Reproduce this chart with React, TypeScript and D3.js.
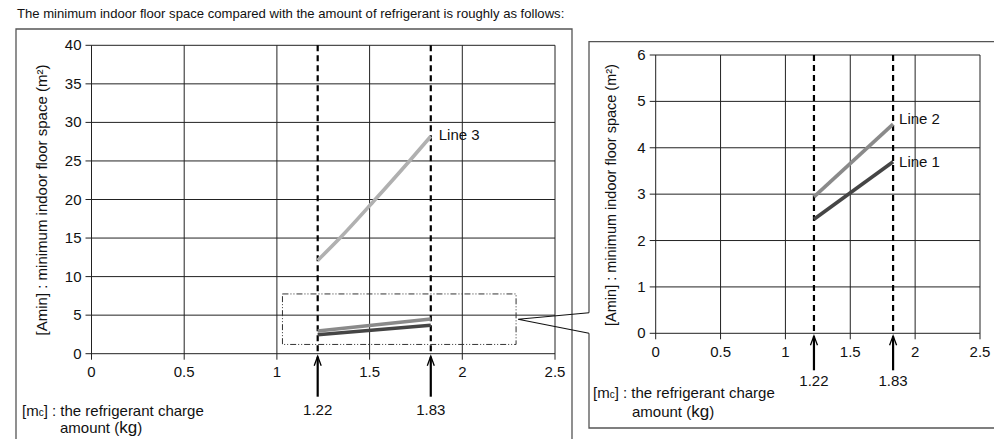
import * as React from 'react';
import * as d3 from 'd3';

// ---- data ----
const xTicks = [0, 0.5, 1, 1.5, 2, 2.5];
const yTicksFull = [0, 5, 10, 15, 20, 25, 30, 35, 40];
const yTicksZoom = [0, 1, 2, 3, 4, 5, 6];
const chargeMarkers = [1.22, 1.83];

type Pt = { m: number; a: number };
const line1: Pt[] = [
  { m: 1.22, a: 2.46 },
  { m: 1.83, a: 3.7 },
];
const line2: Pt[] = [
  { m: 1.22, a: 2.94 },
  { m: 1.83, a: 4.51 },
];
const line3: Pt[] = [
  { m: 1.22, a: 12.1 },
  { m: 1.34, a: 15 },
  { m: 1.53, a: 20 },
  { m: 1.715, a: 25 },
  { m: 1.83, a: 28.2 },
];
const zoomWindowM = [1.03, 2.29];
const zoomWindowA = [1.2, 7.75];

const title = 'The minimum indoor floor space compared with the amount of refrigerant is roughly as follows:';
const yTitle = '[Amin] : minimum indoor floor space (m²)';

const FONT = '"Liberation Sans", Arial, Helvetica, sans-serif';
const GRID = '#222';
const C1 = '#454545';
const C2 = '#8a8a8a';
const C3 = '#b0b0b0';

function Panel({
  x,
  y,
  yTicks,
  series,
  labels,
  arrowLen,
  markerLabelDy,
  tickFont,
}: {
  x: d3.ScaleLinear<number, number>;
  y: d3.ScaleLinear<number, number>;
  yTicks: number[];
  series: { data: Pt[]; color: string; curve: d3.CurveFactory }[];
  labels: { text: string; at: Pt; dx: number; dy: number }[];
  arrowLen: number;
  markerLabelDy: number;
  tickFont: number;
}) {
  const [x0, x1] = x.range();
  const [y0, y1] = y.range();
  const line = (c: d3.CurveFactory) =>
    d3
      .line<Pt>()
      .x((d) => x(d.m))
      .y((d) => y(d.a))
      .curve(c);
  return (
    <g>
      {/* grid */}
      {xTicks.map((t) => (
        <line key={'vx' + t} x1={x(t)} x2={x(t)} y1={y0 + 6} y2={y1} stroke={GRID} strokeWidth={1} />
      ))}
      {yTicks.map((t) => (
        <line key={'hy' + t} x1={x0 - 6} x2={x1} y1={y(t)} y2={y(t)} stroke={GRID} strokeWidth={1} />
      ))}
      {/* tick labels */}
      {xTicks.map((t) => (
        <text key={'tx' + t} x={x(t)} y={y0 + 23.5} textAnchor="middle" fontSize={tickFont} fill="#111">
          {String(t)}
        </text>
      ))}
      {yTicks.map((t) => (
        <text key={'ty' + t} x={x0 - 10} y={y(t) + 5} textAnchor="end" fontSize={tickFont} fill="#111">
          {String(t)}
        </text>
      ))}
      {/* dashed markers + arrows */}
      {chargeMarkers.map((m) => (
        <g key={'mk' + m}>
          <line x1={x(m)} x2={x(m)} y1={y1} y2={y0} stroke="#000" strokeWidth={2.2} strokeDasharray="6,4" />
          <line x1={x(m)} x2={x(m)} y1={y0 + 3} y2={y0 + arrowLen} stroke="#000" strokeWidth={2.2} />
          <path
            d={`M${x(m) - 3.5},${y0 + 12} L${x(m)},${y0 + 2.5} L${x(m) + 3.5},${y0 + 12}`}
            fill="none"
            stroke="#000"
            strokeWidth={1.3}
          />
          <text x={x(m)} y={y0 + markerLabelDy} textAnchor="middle" fontSize={tickFont} fill="#111">
            {String(m)}
          </text>
        </g>
      ))}
      {/* series */}
      {series.map((s, i) => (
        <path key={'s' + i} d={line(s.curve)(s.data) || ''} fill="none" stroke={s.color} strokeWidth={3.6} />
      ))}
      {labels.map((l) => (
        <text key={l.text} x={x(l.at.m) + l.dx} y={y(l.at.a) + l.dy} fontSize={15} fill="#111">
          {l.text}
        </text>
      ))}
    </g>
  );
}

export default function App() {
  const xL = d3.scaleLinear().domain([0, 2.5]).range([91.5, 555]);
  const yL = d3.scaleLinear().domain([0, 40]).range([353.7, 45.3]);
  const xR = d3.scaleLinear().domain([0, 2.5]).range([655.7, 980]);
  const yR = d3.scaleLinear().domain([0, 6]).range([333.3, 55]);

  const zx0 = xL(zoomWindowM[0]);
  const zx1 = xL(zoomWindowM[1]);
  const zy0 = yL(zoomWindowA[1]);
  const zy1 = yL(zoomWindowA[0]);
  const tipX = zx1 + 2;
  const tipY = (zy0 + zy1) / 2;

  const xLabel = (lx: number, ly: number, lx2: number, ly2: number) => (
    <g fontSize={15} fill="#111">
      <text x={lx} y={ly}>
        [m<tspan fontSize={10}>c</tspan>] : the refrigerant charge
      </text>
      <text x={lx2} y={ly2}>
        amount (<tspan fontSize={17}>kg</tspan>)
      </text>
    </g>
  );

  return (
    <svg
      width={994}
      height={439}
      style={{ position: 'absolute', left: 0, top: 0, background: '#fff' }}
      fontFamily={FONT}
    >
      <rect width={994} height={439} fill="#fff" />
      <text x={17} y={18} fontSize={13.1} fill="#111">
        {title}
      </text>

      {/* frames */}
      <path d="M16,445 V29 H572 V445" fill="none" stroke="#555" strokeWidth={1.3} />
      <path d={`M1000,41.7 H589 V${tipY - 6.5} M589,${tipY + 14} V428 H1000`} fill="none" stroke="#555" strokeWidth={1.3} />

      <Panel
        x={xL}
        y={yL}
        yTicks={yTicksFull}
        series={[
          { data: line3, color: C3, curve: d3.curveMonotoneX },
          { data: line2, color: C2, curve: d3.curveLinear },
          { data: line1, color: C1, curve: d3.curveLinear },
        ]}
        labels={[{ text: 'Line 3', at: line3[line3.length - 1], dx: 8, dy: 4 }]}
        arrowLen={43}
        markerLabelDy={61}
        tickFont={15}
      />
      <Panel
        x={xR}
        y={yR}
        yTicks={yTicksZoom}
        series={[
          { data: line2, color: C2, curve: d3.curveLinear },
          { data: line1, color: C1, curve: d3.curveLinear },
        ]}
        labels={[
          { text: 'Line 2', at: line2[1], dx: 6, dy: 0 },
          { text: 'Line 1', at: line1[1], dx: 6, dy: 5 },
        ]}
        arrowLen={37}
        markerLabelDy={53}
        tickFont={15}
      />

      {/* zoom window + callout */}
      <rect
        x={zx0}
        y={zy0}
        width={zx1 - zx0}
        height={zy1 - zy0}
        fill="none"
        stroke="#333"
        strokeWidth={1}
        strokeDasharray="6,2,1,2,1,2"
      />
      <path d={`M589,${tipY - 6.5} L${tipX},${tipY} L589,${tipY + 14}`} fill="none" stroke="#111" strokeWidth={1.1} />

      {/* axis titles */}
      <text transform="translate(47,200) rotate(-90)" textAnchor="middle" fontSize={15} fill="#111">
        {yTitle}
      </text>
      <text transform="translate(616,195) rotate(-90)" textAnchor="middle" fontSize={14.5} fill="#111">
        {yTitle}
      </text>
      {xLabel(22, 416, 60, 433)}
      {xLabel(593, 398, 632, 416.5)}
    </svg>
  );
}
